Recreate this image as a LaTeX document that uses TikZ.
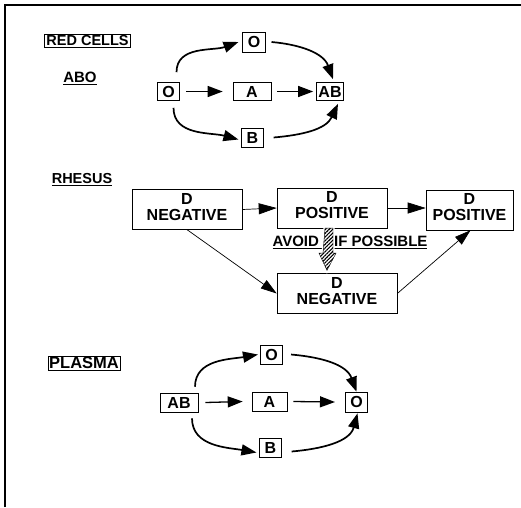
\documentclass[tikz,border=0pt]{standalone}
\usepackage{fontspec}
\setmainfont{Liberation Sans}
\usetikzlibrary{arrows.meta,calc,patterns.meta}
\begin{document}
\begin{tikzpicture}[x=1pt,y=1pt]
        \tikzset{
            grp/.style={
                    rectangle,
                    draw=black,
                    line width=0.6pt,
                    inner xsep=5pt,
                    inner ysep=2pt,
                    minimum height=18pt,
                    font=\fontsize{16}{17}\selectfont\bfseries,
                },
            rhbox/.style={
                    rectangle,
                    draw=black,
                    line width=0.6pt,
                    align=center,
                    minimum height=39pt,
                    text depth=6pt,
                    font=\fontsize{16}{16}\selectfont\bfseries,
                },
            heading/.style={font=\fontsize{14.5}{16}\selectfont\bfseries, inner sep=2pt},
            heavy/.style={-{Triangle[length=15pt,width=11pt]}, line width=1.7pt},
            light/.style={-{Triangle[length=18pt,width=11pt]}, line width=0.7pt},
        }
        \useasboundingbox (0,0) rectangle (521,-507);
        \draw[line width=1.2pt] (5,-507) -- (5,-5) -- (521,-5);
        % red cells
        \node[heading, draw, line width=0.6pt, inner ysep=1.5pt] (redcells) at (87.5,-40.5) {RED CELLS};
        \node[heading, font=\fontsize{15}{16}\selectfont\bfseries] (abo) at (80,-78) {\underline{ABO}};
        \node[grp] (oa) at (168.5,-91.5) {O};
        \node[grp, minimum height=20pt] (otop) at (254,-42) {O};
        \node[grp, minimum width=38pt] (aa) at (252,-91.5) {A};
        \node[grp, inner xsep=2pt] (ab) at (330,-91.5) {AB};
        \node[grp, minimum height=19pt] (ba) at (252.5,-137.5) {B};
        \draw[heavy] ([xshift=8pt,yshift=10pt]oa.north) to[out=90, in=200] ([xshift=-4pt]otop.west);
        \draw[heavy] ([xshift=6pt]otop.east) to[out=-5, in=110] ([xshift=3pt,yshift=3pt]ab.north);
        \draw[heavy] ([xshift=5pt,yshift=-7pt]oa.south) to[out=-90, in=165] ([xshift=-3pt,yshift=-2pt]ba.west);
        \draw[heavy] ([xshift=10pt]ba.east) to[out=5, in=-115] ([xshift=8pt,yshift=-3pt]ab.south);
        \draw[heavy, line width=1.3pt] ([xshift=6pt]oa.east) -- ([xshift=-10pt]aa.west);
        \draw[heavy, line width=1.3pt] ([xshift=6pt]aa.east) -- ([xshift=-3pt]ab.west);
        % rhesus
        \node[heading] (rhesus) at (82,-180) {\underline{RHESUS}};
        \node[rhbox, minimum width=110pt] (neg1) at (187,-209.5) {D\\NEGATIVE};
        \node[rhbox, minimum width=110pt, minimum height=38pt] (pos1) at (332,-208) {D\\POSITIVE};
        \node[rhbox, minimum width=87pt, minimum height=40pt] (pos2) at (469.5,-210) {D\\POSITIVE};
        \node[rhbox, minimum width=120pt] (neg2) at (337,-293.5) {D\\NEGATIVE};
        \node[heading, font=\fontsize{15}{16}\selectfont\bfseries] (avoid) at (350,-242) {\underline{AVOID\hspace{11pt} IF POSSIBLE}};
        \draw[light] (neg1.east) -- (pos1.west);
        \draw[light] (pos1.east) -- (pos1.east -| pos2.west);
        \draw[light, -{Triangle[length=16pt,width=10pt]}] (neg1.south) -- (neg2.west);
        \draw[light, -{Triangle[length=16pt,width=10pt]}] (neg2.east) -- ([xshift=1pt]pos2.south);
        \filldraw[line width=0.4pt, preaction={draw=white, fill=white, line width=3pt},
            pattern={Lines[angle=45,distance=2.6pt,line width=1.1pt]}]
            ($(pos1.south)+(-7,0)$) -- ($(pos1.south)+(1,0)$) -- ($(pos1.south)+(1,-25)$)
            -- ($(pos1.south)+(4,-25)$) -- ($(neg2.north)+(-10,3)$) -- ($(pos1.south)+(-13,-25)$)
            -- ($(pos1.south)+(-9,-25)$) -- cycle;
        % plasma
        \node[heading, draw, line width=0.6pt, inner sep=1pt, font=\fontsize{16.5}{17}\selectfont\bfseries] (plasma) at (84,-363) {PLASMA};
        \node[grp, minimum width=38pt, minimum height=19pt] (abp) at (179,-402.5) {AB};
        \node[grp, minimum height=19pt] (otp) at (271.5,-354.5) {O};
        \node[grp, minimum width=35pt, minimum height=19pt] (ap) at (269.5,-401.5) {A};
        \node[grp, minimum height=20pt] (op) at (356.5,-402) {O};
        \node[grp, minimum height=19pt] (bp) at (270.5,-447.5) {B};
        \draw[heavy] ([xshift=16pt,yshift=6pt]abp.north) to[out=90, in=190] ([xshift=-2pt]otp.west);
        \draw[heavy] ([xshift=8pt]otp.east) to[out=-5, in=110] (op.north);
        \draw[heavy] ([xshift=13pt,yshift=-6pt]abp.south) to[out=-90, in=170] ([xshift=-3pt,yshift=-5pt]bp.west);
        \draw[heavy] ([xshift=10pt,yshift=-4pt]bp.east) to[out=5, in=-105] ([xshift=1pt,yshift=-1pt]op.south);
        \draw[heavy, line width=1.3pt] ([xshift=7pt]abp.east) -- ([xshift=-9pt]ap.west);
        \draw[heavy, line width=1.3pt] ([xshift=6pt]ap.east) -- ([xshift=-10pt]op.west);
    \end{tikzpicture}
\end{document}
